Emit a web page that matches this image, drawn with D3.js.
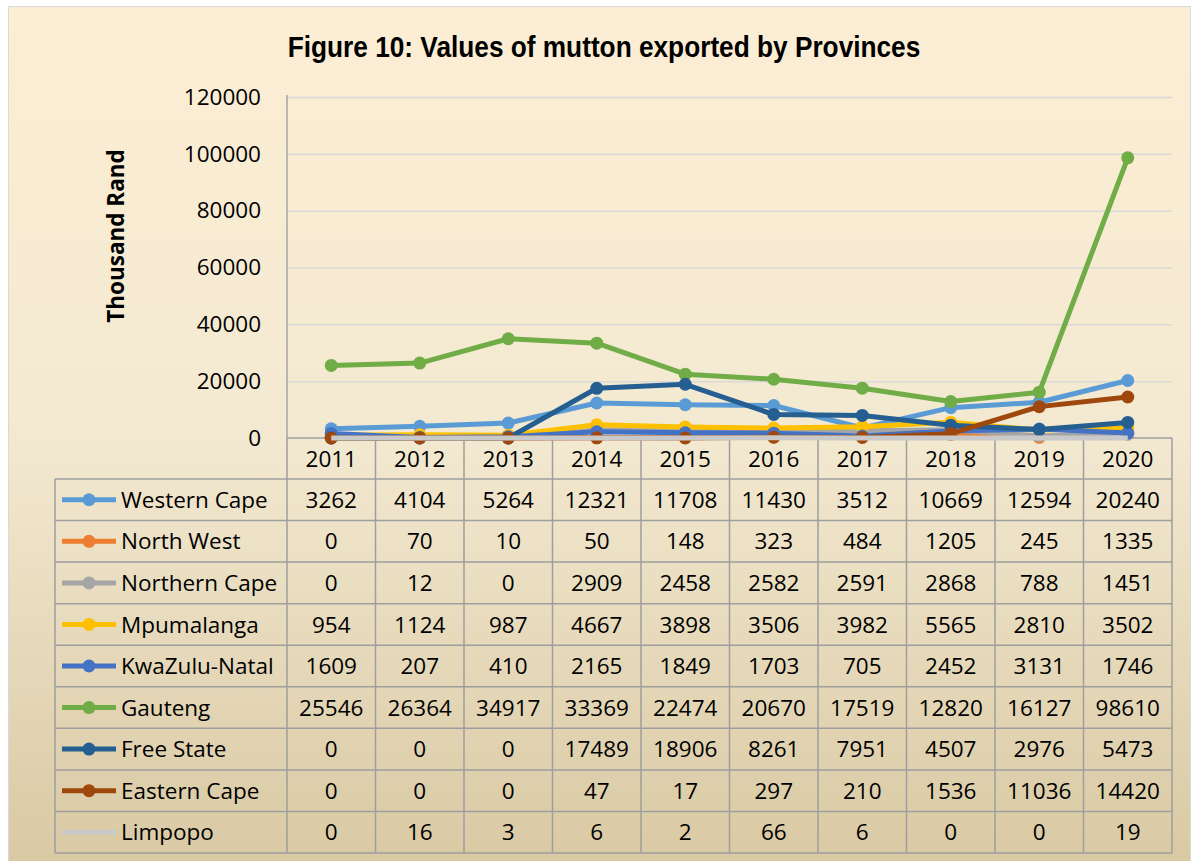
<html>
<head>
  <script src="https://cdn.jsdelivr.net/npm/d3@7/dist/d3.min.js"></script>
</head>
<style>
  body{ margin:0; background:#fff; }
  svg{ display:block; }
</style>
<body>
  <svg width="1195" height="861" id="chart"></svg>
  <script>
    // data
    var years = ['2011','2012','2013','2014','2015','2016','2017','2018','2019','2020'];
    var provinces = ['Western Cape','North West','Northern Cape','Mpumalanga','KwaZulu-Natal','Gauteng','Free State','Eastern Cape','Limpopo'];
    var westernCape  = [3262, 4104, 5264, 12321, 11708, 11430, 3512, 10669, 12594, 20240];
    var northWest    = [0, 70, 10, 50, 148, 323, 484, 1205, 245, 1335];
    var northernCape = [0, 12, 0, 2909, 2458, 2582, 2591, 2868, 788, 1451];
    var mpumalanga   = [954, 1124, 987, 4667, 3898, 3506, 3982, 5565, 2810, 3502];
    var kwaZuluNatal = [1609, 207, 410, 2165, 1849, 1703, 705, 2452, 3131, 1746];
    var gauteng      = [25546, 26364, 34917, 33369, 22474, 20670, 17519, 12820, 16127, 98610];
    var freeState    = [0, 0, 0, 17489, 18906, 8261, 7951, 4507, 2976, 5473];
    var easternCape  = [0, 0, 0, 47, 17, 297, 210, 1536, 11036, 14420];
    var limpopo      = [0, 16, 3, 6, 2, 66, 6, 0, 0, 19];
    var yTicks = [0, 20000, 40000, 60000, 80000, 100000, 120000];

    var colors = ['#5B9BD5','#ED7D31','#A5A5A5','#FFC000','#4472C4','#70AD47','#255E91','#9E480E','#C9C9C9'];
    var series = [westernCape, northWest, northernCape, mpumalanga, kwaZuluNatal, gauteng, freeState, easternCape, limpopo]
      .map(function (v, i) { return { name: provinces[i], values: v, color: colors[i], marker: i < 8 }; });

    var svg = d3.select('#chart');
    var font = "'Open Sans', sans-serif";

    // background
    var grad = svg.append('defs').append('linearGradient')
      .attr('id', 'bg').attr('x1', 0).attr('y1', 0).attr('x2', 0).attr('y2', 1);
    grad.append('stop').attr('offset', '0%').attr('stop-color', '#FCEED4');
    grad.append('stop').attr('offset', '50%').attr('stop-color', '#F3E9D1');
    grad.append('stop').attr('offset', '100%').attr('stop-color', '#D9C9A3');
    svg.append('rect').attr('x', 8.5).attr('y', 6.5).attr('width', 1182).attr('height', 860)
      .attr('fill', 'url(#bg)').attr('stroke', '#D9D9D9').attr('stroke-width', 1);

    var plotLeft = 287, plotRight = 1172, plotTop = 97, plotBottom = 438;
    var x = d3.scaleBand().domain(years).range([plotLeft, plotRight]);
    var y = d3.scaleLinear().domain([0, 120000]).range([plotBottom, plotTop]);

    // title (narrow bold look: squeeze horizontally)
    svg.append('text')
      .attr('transform', 'translate(604,57) scale(0.905,1)')
      .attr('text-anchor', 'middle')
      .attr('font-family', "'Liberation Sans Narrow', 'Arial Narrow', 'Liberation Sans', sans-serif")
      .attr('font-weight', 'bold')
      .attr('font-size', '29px')
      .text('Figure 10: Values of mutton exported by Provinces');

    // gridlines
    svg.append('g')
      .attr('transform', 'translate(' + plotLeft + ',0)')
      .call(d3.axisLeft(y).tickValues(yTicks.slice(1)).tickSize(-(plotRight - plotLeft)).tickFormat(''))
      .call(function (g) { g.select('.domain').remove(); })
      .selectAll('line').attr('stroke', '#D9D9D9').attr('stroke-width', 1.5);

    // y tick labels
    svg.append('g')
      .attr('transform', 'translate(' + (plotLeft - 26) + ',0)')
      .call(d3.axisLeft(y).tickValues(yTicks).tickSize(0).tickFormat(d3.format('d')))
      .call(function (g) { g.select('.domain').remove(); })
      .selectAll('text')
      .attr('font-family', font).attr('font-size', '22.5px').attr('fill', '#000').attr('x', 0);

    // axis line
    svg.append('line').attr('x1', plotLeft).attr('x2', plotLeft).attr('y1', plotTop - 2).attr('y2', plotBottom)
      .attr('stroke', '#A6A6A6').attr('stroke-width', 1.5);

    // y axis title
    svg.append('text')
      .attr('transform', 'translate(124,236) rotate(-90)')
      .attr('text-anchor', 'middle')
      .attr('font-family', font).attr('font-weight', 'bold').attr('font-size', '22.5px')
      .text('Thousand Rand');

    // data table
    var tableLeft = 55, headTop = plotBottom, rowTop = 479, tableBottom = 853;
    var row = d3.scaleBand().domain(provinces).range([rowTop, tableBottom]);
    var grid = svg.append('g').attr('stroke', '#9E9E9E').attr('stroke-width', 1.5);
    // horizontal lines
    grid.append('line').attr('x1', plotLeft).attr('x2', plotRight).attr('y1', headTop).attr('y2', headTop);
    provinces.forEach(function (p) {
      grid.append('line').attr('x1', tableLeft).attr('x2', plotRight).attr('y1', row(p)).attr('y2', row(p));
    });
    grid.append('line').attr('x1', tableLeft).attr('x2', plotRight).attr('y1', tableBottom).attr('y2', tableBottom);
    // vertical lines
    grid.append('line').attr('x1', tableLeft).attr('x2', tableLeft).attr('y1', rowTop).attr('y2', tableBottom);
    years.forEach(function (yr) {
      grid.append('line').attr('x1', x(yr)).attr('x2', x(yr)).attr('y1', headTop).attr('y2', tableBottom);
    });
    grid.append('line').attr('x1', plotRight).attr('x2', plotRight).attr('y1', headTop).attr('y2', tableBottom);

    // year header
    svg.append('g').selectAll('text')
      .data(years).enter().append('text')
      .attr('x', function (d) { return x(d) + x.bandwidth() / 2; })
      .attr('y', (headTop + rowTop) / 2)
      .attr('dy', '0.36em')
      .attr('text-anchor', 'middle')
      .attr('font-family', font).attr('font-size', '22.5px')
      .text(function (d) { return d; });

    // rows
    var rows = svg.append('g').selectAll('g')
      .data(series).enter().append('g')
      .attr('transform', function (d) { return 'translate(0,' + (row(d.name) + row.bandwidth() / 2) + ')'; });
    rows.append('line')
      .attr('x1', 62).attr('x2', 116).attr('y1', 0).attr('y2', 0)
      .attr('stroke', function (d) { return d.color; }).attr('stroke-width', 5);
    rows.filter(function (d) { return d.marker; }).append('circle')
      .attr('cx', 89).attr('cy', 0).attr('r', 6.5)
      .attr('fill', function (d) { return d.color; });
    rows.append('text')
      .attr('x', 121).attr('dy', '0.36em')
      .attr('font-family', font).attr('font-size', '22.5px')
      .text(function (d) { return d.name; });
    rows.selectAll('text.val')
      .data(function (d) { return d.values; }).enter().append('text')
      .attr('class', 'val')
      .attr('x', function (d, i) { return x(years[i]) + x.bandwidth() / 2; })
      .attr('dy', '0.36em')
      .attr('text-anchor', 'middle')
      .attr('font-family', font).attr('font-size', '22.5px')
      .text(function (d) { return d; });

    // lines
    var line = d3.line()
      .x(function (d, i) { return x(years[i]) + x.bandwidth() / 2; })
      .y(function (d) { return y(d); });
    var lines = svg.append('g').selectAll('g')
      .data(series).enter().append('g');
    lines.append('path')
      .attr('d', function (d) { return line(d.values); })
      .attr('fill', 'none')
      .attr('stroke', function (d) { return d.color; })
      .attr('stroke-width', 5)
      .attr('stroke-linejoin', 'round');
    lines.filter(function (d) { return d.marker; })
      .selectAll('circle')
      .data(function (d) { return d.values.map(function (v) { return { v: v, c: d.color }; }); })
      .enter().append('circle')
      .attr('cx', function (d, i) { return x(years[i]) + x.bandwidth() / 2; })
      .attr('cy', function (d) { return y(d.v); })
      .attr('r', 6.5)
      .attr('fill', function (d) { return d.c; });
  </script>
</body>
</html>
